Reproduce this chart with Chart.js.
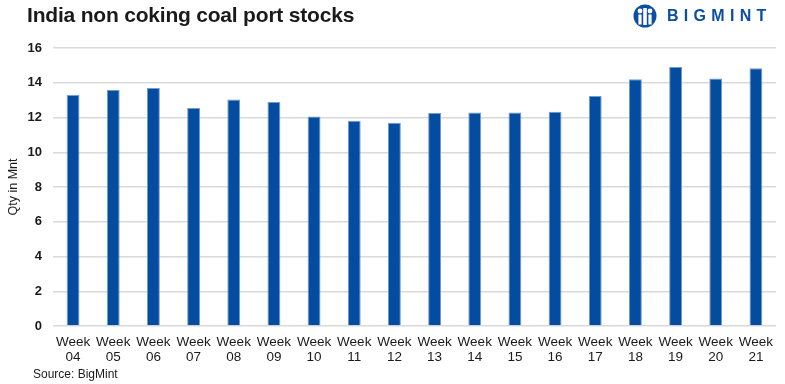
<!DOCTYPE html>
<html>
<head>
<meta charset="utf-8">
<script src="https://cdn.jsdelivr.net/npm/chart.js@4.4.1/dist/chart.umd.min.js"></script>
<style>
  html, body { margin: 0; padding: 0; background: #fff; }
  #wrap { position: relative; width: 785px; height: 384px; overflow: hidden; font-family: "Liberation Sans", Arial, sans-serif; }
  #title { position: absolute; left: 27px; top: 3px; font-size: 21px; font-weight: bold; color: #1a1a1a; letter-spacing: -0.2px; }
  #logo { position: absolute; left: 632px; top: 4px; display: flex; align-items: center; }
  #logo span { font-weight: bold; font-size: 16px; color: #0b4ea2; letter-spacing: 5.3px; margin-left: 9px; }
  #source { position: absolute; left: 33px; top: 367px; font-size: 12px; color: #1a1a1a; }
  canvas { position: absolute; left: 0; top: 0; }
</style>
</head>
<body>
<div id="wrap">
  <canvas id="c" width="785" height="384"></canvas>
  <div id="title">India non coking coal port stocks</div>
  <div id="logo">
    <svg width="26" height="24" viewBox="0 0 26 24">
      <circle cx="13" cy="12" r="11.5" fill="#0b4ea2"/>
      <circle cx="8" cy="7" r="2.4" fill="#fff"/>
      <circle cx="18" cy="7" r="2.4" fill="#fff"/>
      <rect x="11.2" y="4" width="3.6" height="17" fill="#fff"/>
      <rect x="6.4" y="10.5" width="3.2" height="10" fill="#fff"/>
      <rect x="16.4" y="10.5" width="3.2" height="10" fill="#fff"/>
    </svg>
    <span>BIGMINT</span>
  </div>
  <div id="source">Source: BigMint</div>
</div>
<script>
const categories = ["04","05","06","07","08","09","10","11","12","13","14","15","16","17","18","19","20","21"];
const stocks = [13.3, 13.6, 13.7, 12.55, 13.03, 12.89, 12.06, 11.82, 11.7, 12.26, 12.29, 12.29, 12.33, 13.24, 14.2, 14.91, 14.24, 14.83];
const yTicks = [0, 2, 4, 6, 8, 10, 12, 14, 16];
const yTitle = "Qty in Mnt";

const labels = categories.map(w => ["Week", w]);

new Chart(document.getElementById('c'), {
  type: 'bar',
  data: {
    labels: labels,
    datasets: [{
      data: stocks,
      backgroundColor: '#034ca0',
      borderColor: '#6f9bd6',
      borderWidth: 1,
      categoryPercentage: 0.8,
      barPercentage: 0.4
    }]
  },
  options: {
    responsive: false,
    animation: false,
    layout: { padding: { left: 0, top: 48, right: 9, bottom: 0 } },
    plugins: { legend: { display: false }, tooltip: { enabled: false } },
    scales: {
      x: {
        grid: { display: false },
        border: { display: false },
        ticks: {
          color: '#1a1a1a',
          font: { family: '"Liberation Sans", Arial, sans-serif', size: 13.5, lineHeight: 1.08 },
          padding: 1,
          maxRotation: 0,
          autoSkip: false
        },
        afterFit: s => { s.height = 58; }
      },
      y: {
        min: 0, max: 16,
        afterBuildTicks: s => { s.ticks = yTicks.map(v => ({ value: v })); },
        grid: { color: '#d9d9d9', lineWidth: 1.5, drawTicks: false },
        border: { display: false },
        ticks: {
          color: '#1a1a1a',
          font: { family: '"Liberation Sans", Arial, sans-serif', size: 13, weight: 'bold' },
          padding: 11
        },
        title: {
          display: true,
          text: yTitle,
          color: '#1a1a1a',
          font: { family: '"Liberation Sans", Arial, sans-serif', size: 12.5 },
          padding: { top: 6, bottom: 0 }
        },
        afterFit: s => { s.width = 53; }
      }
    }
  }
});
</script>
</body>
</html>
